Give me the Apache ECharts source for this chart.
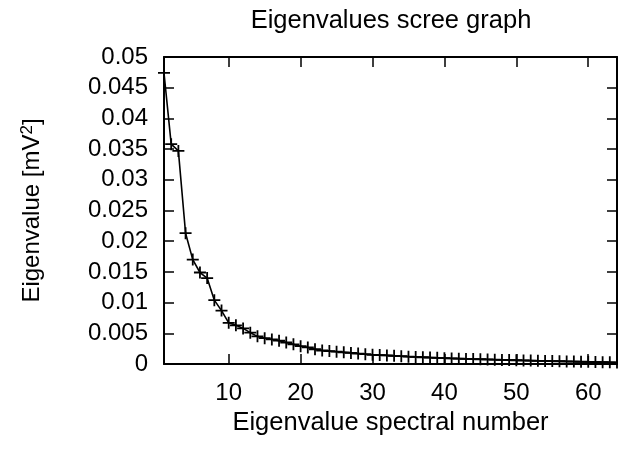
<!DOCTYPE html>
<html>
<head>
<meta charset="utf-8">
<script src="https://cdn.jsdelivr.net/npm/echarts@6/dist/echarts.min.js"></script>
<style>html,body{margin:0;padding:0;background:#fff}#c{width:618px;height:449px}</style>
</head>
<body>
<div id="c"></div>
<script>
// Data
var spectralNumbers = [];
for (var i = 1; i <= 64; i++) spectralNumbers.push(i);
var eigenvalues = [
  0.0474, 0.0358, 0.0347, 0.0213, 0.0170, 0.0149, 0.0140, 0.0104, 0.0087, 0.0067,
  0.0063, 0.0058, 0.0051, 0.0045, 0.0042, 0.0040, 0.0038, 0.0035, 0.0032, 0.0029,
  0.0027, 0.0024, 0.0022, 0.0021, 0.0020, 0.0019, 0.0018, 0.0017, 0.0016, 0.0015,
  0.00145, 0.0014, 0.00133, 0.00127, 0.0012, 0.00115, 0.0011, 0.00105, 0.0010, 0.00095,
  0.0009, 0.00087, 0.00083, 0.0008, 0.00077, 0.00074, 0.0007, 0.00067, 0.00064, 0.00061,
  0.00058, 0.00055, 0.00052, 0.0005, 0.00047, 0.00045, 0.00042, 0.0004, 0.00037, 0.00035,
  0.00032, 0.0003, 0.00027, 0.00024
];
var xTicks = [10, 20, 30, 40, 50, 60];
var yTickLabels = ['0', '0.005', '0.01', '0.015', '0.02', '0.025', '0.03', '0.035', '0.04', '0.045', '0.05'];

var FONT = 'Liberation Sans';
var FS = 24;     // tick labels
var FN = 25.5;   // title and x axis name
var seriesData = spectralNumbers.map(function (x, i) { return [x, eigenvalues[i]]; });
var plus = 'path://M0,4.25H10V5.75H0Z M4.25,0H5.75V10H4.25Z';

var chart = echarts.init(document.getElementById('c'), null, { renderer: 'canvas' });
var axisLineStyle = { color: '#000', width: 2 };
var xCommon = {
  type: 'value', min: 1, max: 64,
  axisLine: { show: true, onZero: false, lineStyle: axisLineStyle },
  axisTick: { show: true, inside: true, length: 10, customValues: xTicks, lineStyle: { color: '#000', width: 1.5 } },
  splitLine: { show: false }
};
var yCommon = {
  type: 'value', min: 0, max: 0.05, interval: 0.005,
  axisLine: { show: true, onZero: false, lineStyle: axisLineStyle },
  axisTick: { show: true, inside: true, length: 10, lineStyle: { color: '#000', width: 1.5 } },
  splitLine: { show: false }
};
chart.setOption({
  animation: false,
  backgroundColor: '#fff',
  graphic: [{
    type: 'text', x: 391, y: 21,
    style: { text: 'Eigenvalues scree graph', font: FN + 'px "' + FONT + '"', fill: '#000', textAlign: 'center', textVerticalAlign: 'middle' }
  }],
  grid: { left: 164, right: 1, top: 57, bottom: 85 },
  xAxis: [
    Object.assign({}, xCommon, {
      position: 'bottom',
      name: 'Eigenvalue spectral number', nameLocation: 'middle', nameGap: 46,
      nameTextStyle: { fontFamily: FONT, fontSize: FN, color: '#000' },
      axisLabel: { show: true, customValues: xTicks, margin: 17, fontFamily: FONT, fontSize: FS, color: '#000' }
    }),
    Object.assign({}, xCommon, { position: 'top', axisLabel: { show: false } })
  ],
  yAxis: [
    Object.assign({}, yCommon, {
      position: 'left',
      name: 'Eigenvalue [mV{sup|2}]', nameLocation: 'middle', nameGap: 118,
      nameTextStyle: { fontFamily: FONT, fontSize: 24, color: '#000',
        rich: { sup: { fontFamily: FONT, fontSize: 17, color: '#000', verticalAlign: 'top', padding: [0, 0, 10, 0] } } },
      axisLabel: { show: true, margin: 16, fontFamily: FONT, fontSize: FS, color: '#000',
        formatter: function (v) { return yTickLabels[Math.round(v / 0.005)]; } }
    }),
    Object.assign({}, yCommon, { position: 'right', axisLabel: { show: false } })
  ],
  series: [{
    type: 'line', xAxisIndex: 0, yAxisIndex: 0,
    data: seriesData,
    symbol: plus, symbolSize: 12, showAllSymbol: true,
    lineStyle: { color: '#000', width: 1.6 },
    itemStyle: { color: '#000' },
    clip: false
  }]
});
</script>
</body>
</html>
